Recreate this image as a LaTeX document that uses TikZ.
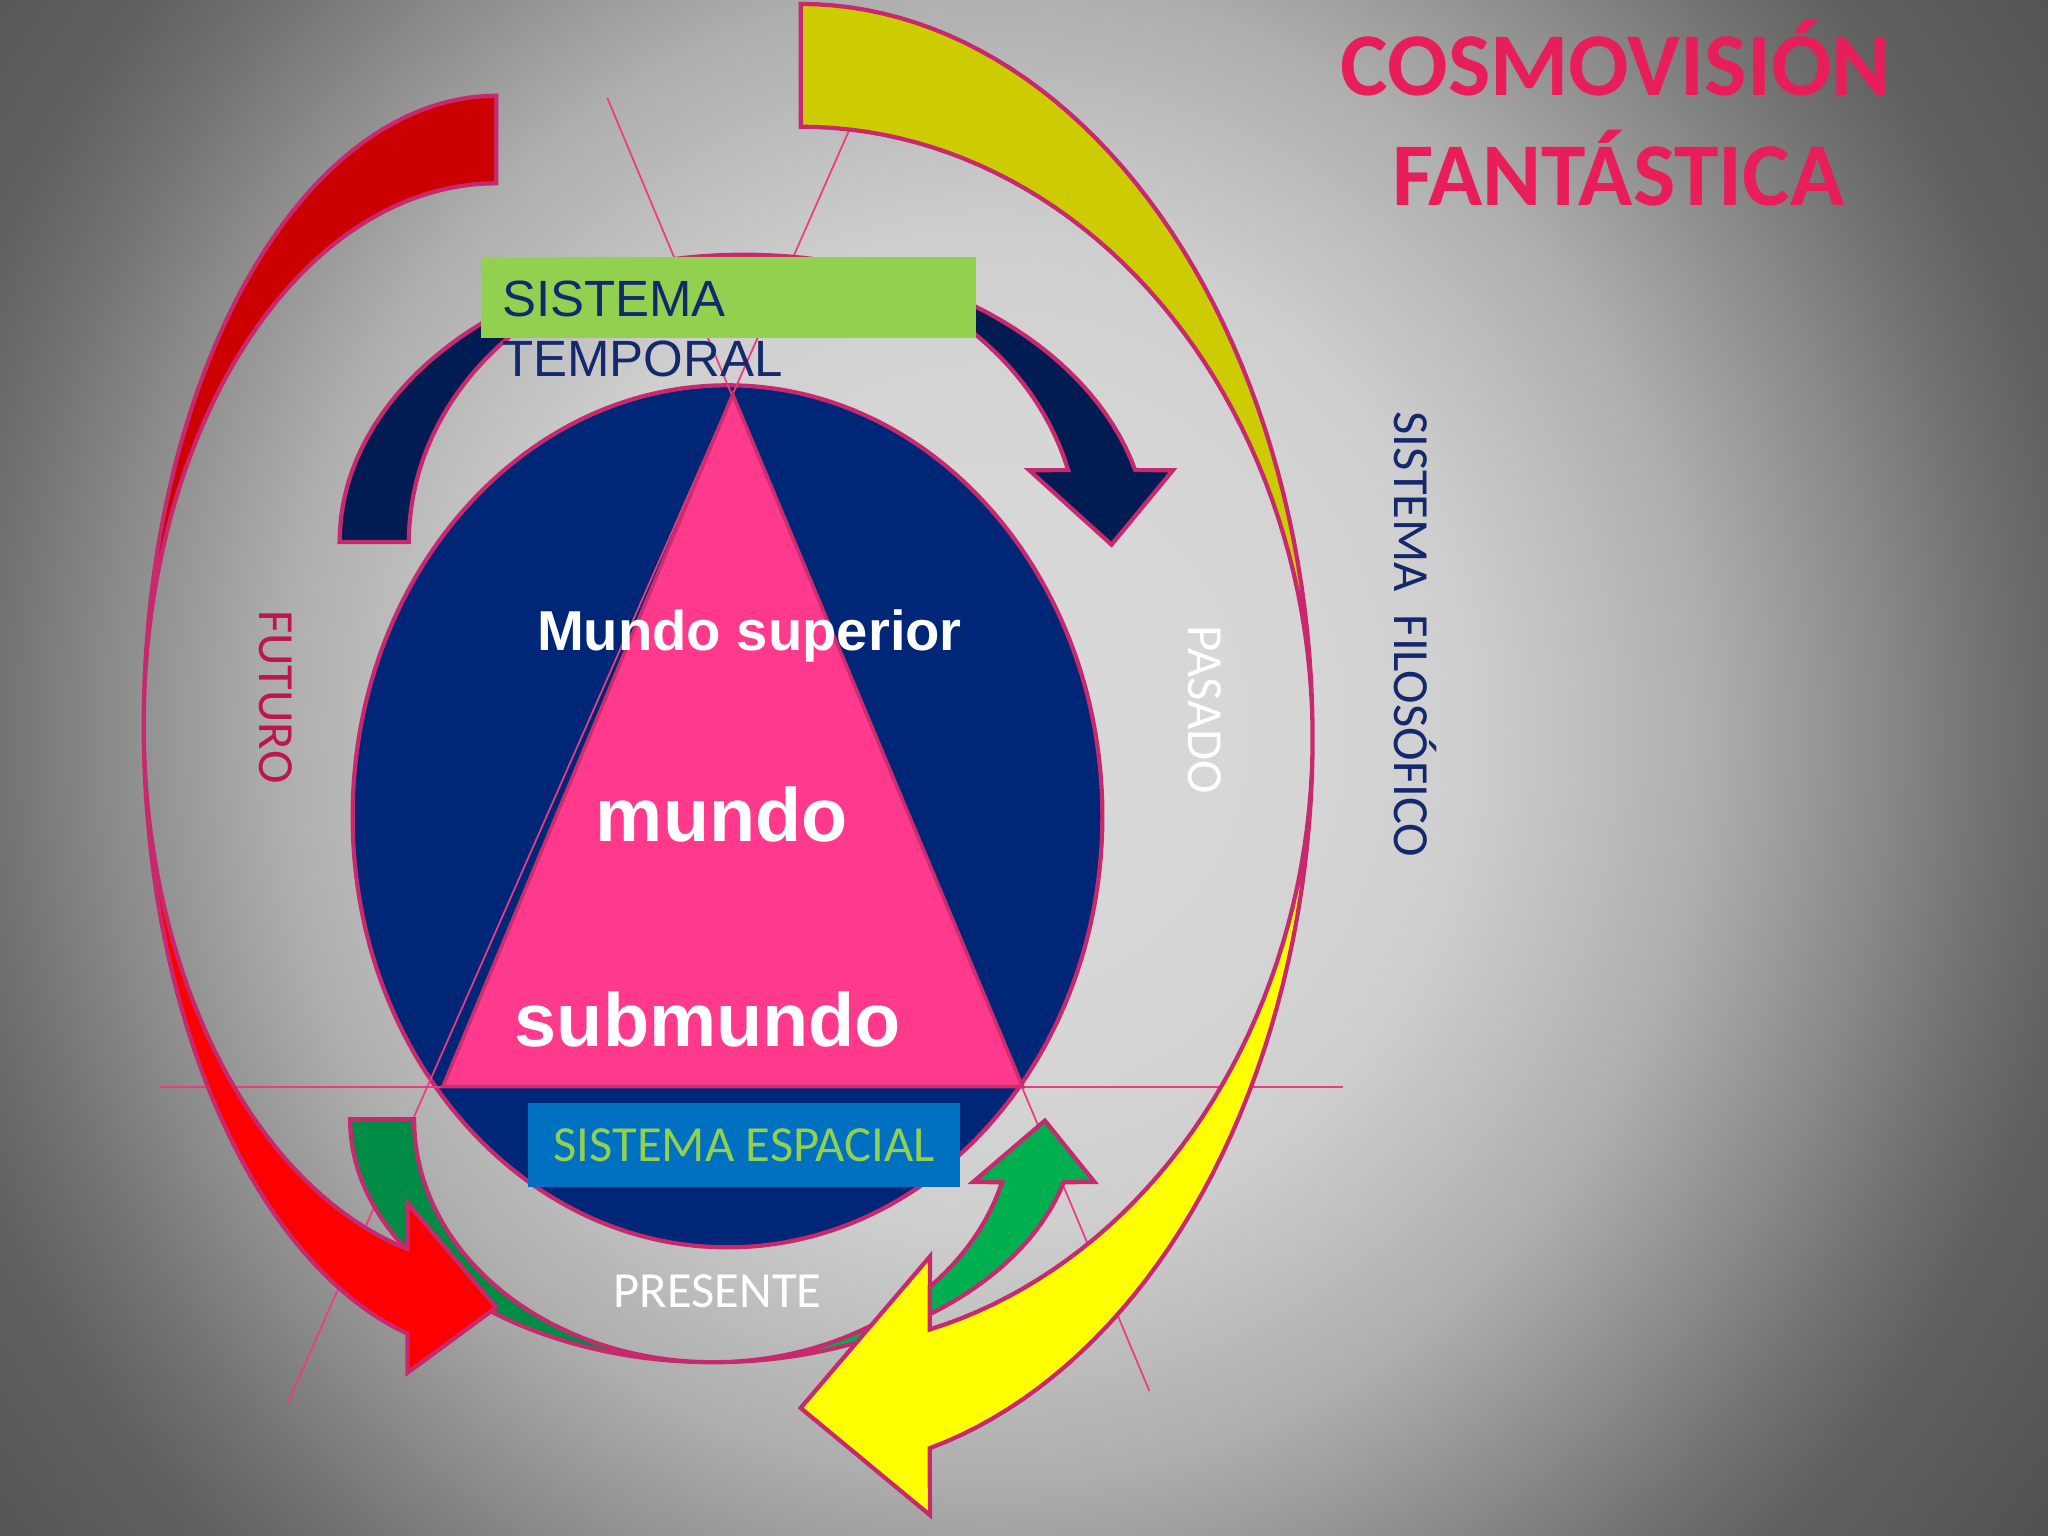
\documentclass[tikz,border=0pt]{standalone}
\usepackage{fontspec}
\setmainfont{Carlito}
\newfontfamily\arialfont{Liberation Sans}

\definecolor{rimred}{RGB}{200,40,110}
\definecolor{guidepink}{RGB}{235,60,130}
\definecolor{ovalnavy}{RGB}{0,38,120}
\definecolor{arrownavy}{RGB}{0,28,82}
\definecolor{worldpink}{RGB}{255,58,140}
\definecolor{worldrim}{RGB}{205,45,110}
\definecolor{redlow}{RGB}{255,0,0}
\definecolor{redhigh}{RGB}{204,0,0}
\definecolor{yellowlow}{RGB}{255,255,0}
\definecolor{yellowhigh}{RGB}{204,204,0}
\definecolor{greenlight}{RGB}{0,176,80}
\definecolor{greendark}{RGB}{0,140,68}
\definecolor{boxgreen}{RGB}{146,208,80}
\definecolor{boxblue}{RGB}{0,112,192}
\definecolor{textnavy}{RGB}{20,40,110}
\definecolor{futurored}{RGB}{190,20,80}
\definecolor{titlepink}{RGB}{232,30,90}

\pgfdeclareradialshading{bgglow}{\pgfpoint{0bp}{0bp}}{rgb(0bp)=(.85,.85,.85); rgb(5bp)=(.84,.84,.84); rgb(8.25bp)=(.81,.81,.81); rgb(12.5bp)=(.68,.68,.68); rgb(15bp)=(.56,.56,.56); rgb(17.5bp)=(.44,.44,.44); rgb(19bp)=(.38,.38,.38); rgb(22.5bp)=(.32,.32,.32); rgb(25bp)=(.28,.28,.28); rgb(50bp)=(.28,.28,.28)}

\begin{document}
\begin{tikzpicture}[x=0.0130612cm, y=-0.0130612cm,
    rim/.style={draw=rimred, line width=1.2pt},
    guide/.style={draw=guidepink, line width=0.5pt},
    lbl/.style={font=\fontsize{14.4pt}{17pt}\selectfont, inner sep=0pt},
    vlbl/.style={lbl, rotate=-90, anchor=base},
    arialtext/.style={text=textnavy, inner sep=0pt, anchor=base west, font=\arialfont\fontsize{14.5pt}{17pt}\selectfont},
    world/.style={text=white, inner sep=0pt, anchor=base, font=\arialfont\bfseries\fontsize{#1}{#1}\selectfont},
    bigtitle/.style={text=titlepink, inner sep=0pt, anchor=base, font=\bfseries\fontsize{25.5pt}{30pt}\selectfont}]
  \useasboundingbox (0,0) rectangle (1568,1176);
  % background
  \begin{scope}
    \clip (0,0) rectangle (1568,1176);
    \shade[shading=bgglow] (760,560) ellipse [x radius=1100, y radius=1150];
  \end{scope}

  % oval, guide lines, triangle
  \filldraw[rim, fill=ovalnavy] (557,625) ellipse [x radius=287, y radius=330];
  \coordinate (apex) at (561,302);
  \coordinate (baseL) at (339,832);
  \coordinate (baseR) at (783,832);
  \coordinate (g1a) at (465,75);
  \coordinate (g1b) at (880,1065);
  \coordinate (g2a) at (650,100);
  \coordinate (g2b) at (220,1075);
  \coordinate (g3a) at (122,832);
  \coordinate (g3b) at (1028,832);
  \draw[guide] (g1a) -- (g1b);
  \draw[guide] (g2a) -- (g2b);
  \draw[guide] (g3a) -- (g3b);
  \filldraw[draw=worldrim, line width=1pt, fill=worldpink] (apex) -- (baseL) -- (baseR) -- cycle;

  % temporal arrow
  \filldraw[rim, fill=arrownavy]
    plot[domain=180:345.5, samples=70] ({569.5+309.5*cos(\x)}, {415+220*sin(\x)})
    -- (898,360) -- (851,417) -- (788,360)
    -- plot[domain=345.5:180, samples=70] ({569.5+256.5*cos(\x)}, {415+220*sin(\x)}) -- cycle;
  % spatial arrow
  \filldraw[rim, fill=greenlight, path picture={\fill[greendark] (0,0) rectangle (546,1176);}]
    plot[domain=180:15, samples=70] ({546+278*cos(\x)}, {857+186*sin(\x)})
    -- (838,905) -- (800,858) -- (745,905)
    -- plot[domain=15:180, samples=70] ({546+229*cos(\x)}, {857+186*sin(\x)}) -- cycle;
  % future arrow
  \filldraw[rim, fill=redlow, path picture={\fill[redhigh] (0,0) rectangle (1568,555);}]
    plot[domain=-90:-255.4, samples=90] ({380+270*cos(\x)}, {555+481.7*sin(\x)})
    -- (312,1051) -- (380,1001) -- (312,921)
    -- plot[domain=-255.4:-90, samples=90] ({380+270*cos(\x)}, {555+414.7*sin(\x)}) -- cycle;
  % past arrow
  \filldraw[rim, fill=yellowlow, path picture={\fill[yellowhigh] (0,0) rectangle (1568,565);}]
    plot[domain=-90:75.4, samples=90] ({613+392*cos(\x)}, {565+562*sin(\x)})
    -- (712,1160) -- (613,1078) -- (712,962)
    -- plot[domain=75.4:-90, samples=90] ({613+392*cos(\x)}, {565+468*sin(\x)}) -- cycle;

  % boxes and texts
  \fill[boxgreen] (368,197) rectangle (747,259);
  \node[arialtext] (temp1) at (384,242.5) {SISTEMA};
  \node[arialtext] (temp2) at (384,288.4) {TEMPORAL};
  \node[lbl, fill=boxblue, text=boxgreen, minimum width=4.315cm, minimum height=0.832cm] (espacial) at (569.8,876.7) {SISTEMA ESPACIAL};

  \node[world=16pt] (superior) at (573.8,497.8) {Mundo superior};
  \node[world=21.5pt] (mundo) at (552.6,644.3) {mundo};
  \node[world=21.5pt] (submundo) at (542,801.4) {submundo};

  \node[vlbl, text=futurored] (futuro) at (199,533.5) {FUTURO};
  \node[vlbl, text=white] (pasado) at (910,543.5) {PASADO};
  \node[vlbl, text=textnavy] (filosofico) at (1068,485.6) {SISTEMA~~FILOSÓFICO};
  \node[lbl, anchor=base, text=white] (presente) at (549.5,1001) {PRESENTE};

  \node[bigtitle] (cosmo) at (1237,73) {COSMOVISIÓN};
  \node[bigtitle] (fantastica) at (1239,157) {FANTÁSTICA};
\end{tikzpicture}
\end{document}
